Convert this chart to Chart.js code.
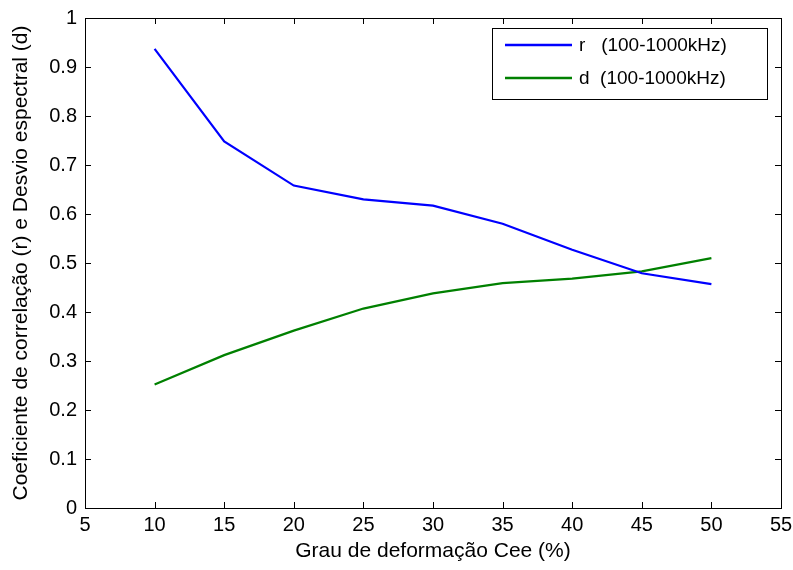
<!DOCTYPE html>
<html>
<head>
<meta charset="utf-8">
<script src="https://cdn.jsdelivr.net/npm/chart.js@4"></script>
<style>
  html, body { margin: 0; padding: 0; background: #fff; }
  #wrap { width: 793px; height: 570px; }
</style>
</head>
<body>
<div id="wrap"><canvas id="grafico" width="793" height="570"></canvas></div>
<script>
// Datos
const deformacao = [10, 15, 20, 25, 30, 35, 40, 45, 50];
const coefR = [0.937, 0.748, 0.658, 0.630, 0.617, 0.580, 0.527, 0.479, 0.457];
const desvioD = [0.252, 0.312, 0.362, 0.407, 0.438, 0.459, 0.468, 0.483, 0.510];
const ticksX = [5, 10, 15, 20, 25, 30, 35, 40, 45, 50, 55];
const ticksY = [0, 0.1, 0.2, 0.3, 0.4, 0.5, 0.6, 0.7, 0.8, 0.9, 1];

const fonte = 'Liberation Sans, Arial, sans-serif';

function pares(xs, ys) {
    return xs.map((x, i) => ({ x: x, y: ys[i] }));
}

// caja tipo MATLAB con marcas hacia dentro + leyenda
const cajaPlugin = {
    id: 'caja',
    afterDraw(chart) {
        const ctx = chart.ctx;
        const a = chart.chartArea;
        const sx = chart.scales.x, sy = chart.scales.y;
        ctx.save();
        ctx.strokeStyle = '#000';
        ctx.lineWidth = 1;
        ctx.strokeRect(a.left + 0.5, a.top + 0.5, a.right - a.left, a.bottom - a.top);
        ctx.beginPath();
        ticksX.forEach(v => {
            const p = Math.round(sx.getPixelForValue(v)) + 0.5;
            ctx.moveTo(p, a.bottom); ctx.lineTo(p, a.bottom - 6);
            ctx.moveTo(p, a.top); ctx.lineTo(p, a.top + 6);
        });
        ticksY.forEach(v => {
            const p = Math.round(sy.getPixelForValue(v)) + 0.5;
            ctx.moveTo(a.left, p); ctx.lineTo(a.left + 6, p);
            ctx.moveTo(a.right, p); ctx.lineTo(a.right - 6, p);
        });
        ctx.stroke();

        // leyenda
        const lx = 492, ly = 28, lw = 275, lh = 71;
        ctx.fillStyle = '#fff';
        ctx.fillRect(lx, ly, lw, lh);
        ctx.strokeRect(lx + 0.5, ly + 0.5, lw, lh);
        ctx.font = '19px ' + fonte;
        ctx.textBaseline = 'middle';
        chart.data.datasets.forEach((ds, i) => {
            const y = ly + 17 + i * 33;
            ctx.strokeStyle = ds.borderColor;
            ctx.lineWidth = 2.5;
            ctx.beginPath();
            ctx.moveTo(lx + 13, y); ctx.lineTo(lx + 80, y);
            ctx.stroke();
            ctx.fillStyle = '#000';
            ctx.fillText(ds.label, lx + 87, y + 1);
        });
        ctx.restore();
    }
};

new Chart(document.getElementById('grafico').getContext('2d'), {
    type: 'line',
    data: {
        datasets: [{
            label: 'r   (100-1000kHz)',
            data: pares(deformacao, coefR),
            borderColor: '#0000ff',
            borderWidth: 2.2,
            pointRadius: 0,
            fill: false
        }, {
            label: 'd  (100-1000kHz)',
            data: pares(deformacao, desvioD),
            borderColor: '#008000',
            borderWidth: 2.2,
            pointRadius: 0,
            fill: false
        }]
    },
    options: {
        responsive: false,
        animation: false,
        layout: { padding: { top: 18, right: 12, left: 0, bottom: 0 } },
        plugins: {
            legend: { display: false },
            tooltip: { enabled: false }
        },
        scales: {
            x: {
                type: 'linear',
                min: 5, max: 55,
                afterBuildTicks: s => { s.ticks = ticksX.map(v => ({ value: v })); },
                afterFit: s => { s.height = 62; s.paddingLeft = 0; s.paddingRight = 0; },
                grid: { display: false, drawTicks: false },
                border: { display: false },
                ticks: { color: '#000', font: { family: fonte, size: 20 }, padding: 5, maxRotation: 0 },
                title: { display: true, text: 'Grau de deformação Cee (%)', color: '#000',
                         font: { family: fonte, size: 21 }, padding: { top: 0, bottom: 6 } }
            },
            y: {
                min: 0, max: 1,
                afterBuildTicks: s => { s.ticks = ticksY.map(v => ({ value: v })); },
                afterFit: s => { s.width = 85; s.paddingTop = 0; s.paddingBottom = 0; },
                grid: { display: false, drawTicks: false },
                border: { display: false },
                ticks: { color: '#000', font: { family: fonte, size: 20 }, padding: 8,
                         callback: v => String(Math.round(v * 10) / 10) },
                title: { display: true, text: 'Coeficiente de correlação (r) e Desvio espectral (d)',
                         color: '#000', font: { family: fonte, size: 21 }, padding: { top: 9, bottom: 4 } }
            }
        }
    },
    plugins: [cajaPlugin]
});
</script>
</body>
</html>
